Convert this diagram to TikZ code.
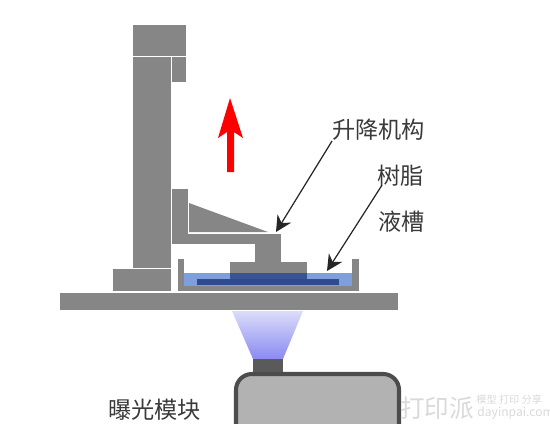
\documentclass[tikz,border=0pt]{standalone}
\usepackage{fontspec}
\setmainfont{Noto Sans CJK SC}
\usepackage{tikz}
\usetikzlibrary{arrows.meta,positioning}
\usepackage{xcolor}
\definecolor{SLAgray}{HTML}{868686}
\definecolor{SLAdark}{HTML}{4c4c4c}
\definecolor{SLAnozzle}{HTML}{5a5a5a}
\definecolor{SLAbody}{HTML}{b2b2b2}
\definecolor{SLAresin}{HTML}{7f9fdc}
\definecolor{SLAblue}{HTML}{2f4a8e}
\definecolor{SLAlight}{HTML}{8a8af2}
\definecolor{SLApale}{HTML}{dcdcfa}
\definecolor{SLAtext}{HTML}{3a3a3a}

\begin{document}
\begin{tikzpicture}[
    x=0.02cm,y=-0.02cm,
    part/.style={fill=SLAgray},
    cnlabel/.style={inner sep=0pt,font=\fontsize{13.2}{14}\selectfont,text=SLAtext},
    wmlabel/.style={inner sep=0pt,text=gray!30},
    arr/.style={-{Stealth[length=9pt,width=9pt]},line width=0.7pt,black!85}
  ]
    \useasboundingbox (0,0) rectangle (550,423);

    % COLUMN
    \fill[part] (133,25) rectangle (186,56);
    \fill[part] (133,57) rectangle (171,268);
    \fill[part] (172,57) rectangle (186,82);
    \fill[part] (113,269) rectangle (171,291);
    \fill[part] (60,293) rectangle (398,310);

    % TANK
    \fill[part] (178,259) rectangle (184,291);
    \fill[part] (352,259) rectangle (359,291);
    \fill[part] (178,286) rectangle (359,291);
    \fill[SLAresin] (184,273) rectangle (352,286);
    \fill[SLAblue] (197,279) rectangle (339,285);

    % LIFT
    \fill[part] (172,189) rectangle (188,244);
    \fill[part] (172,234) rectangle (281,244);
    \fill[part] (189,203) -- (268,232) -- (189,232) -- cycle;
    \fill[part] (255,234) rectangle (281,262);
    \fill[part] (230,262) rectangle (307,273);
    \fill[SLAblue!95!white] (230,273) rectangle (307,279);

    % Up arrow
    \fill[red] (230,98) -- (243,138) -- (234,132) -- (234,172) -- (227,172)
      -- (227,132) -- (218,138) -- cycle;

    % EXPOSURE
    \shade[top color=SLApale,bottom color=SLAlight]
      (232,311) -- (303,311) -- (283,359) -- (253,359) -- cycle;
    \fill[SLAnozzle] (253,359) rectangle (283,373);
    \filldraw[fill=SLAbody,draw=SLAdark,line width=2.3pt,rounded corners=9pt]
      (236,430) -- (236,374) -- (399,374) -- (399,430);

    % Labels
    \node[cnlabel,anchor=west] (lift) at (332,130) {升降机构};
    \node[cnlabel,anchor=west] (resin) at (377,176) {树脂};
    \node[cnlabel,anchor=west] (tank) at (378,222) {液槽};
    \node[cnlabel,anchor=west] (module) at (108,410) {曝光模块};

    % Watermark
    \node[wmlabel,anchor=west,font=\fontsize{14}{14}\selectfont] (wmbig) at (400,408) {打印派};
    \node[wmlabel,anchor=west,font=\fontsize{5.8}{6}\selectfont] (wmcn) at (476,400) {模型 打印 分享};
    \node[wmlabel,anchor=west,font=\fontsize{6.9}{7}\selectfont] (wmurl) at (477,413) {dayinpai.com};

    % Arrows
    \coordinate (liftend) at (276,232);
    \coordinate (resinend) at (327,271);
    \draw[arr] (lift.south west) -- (liftend);
    \draw[arr] ([xshift=2.8pt,yshift=1pt]resin.south west) -- (resinend);
  \end{tikzpicture}
\end{document}
